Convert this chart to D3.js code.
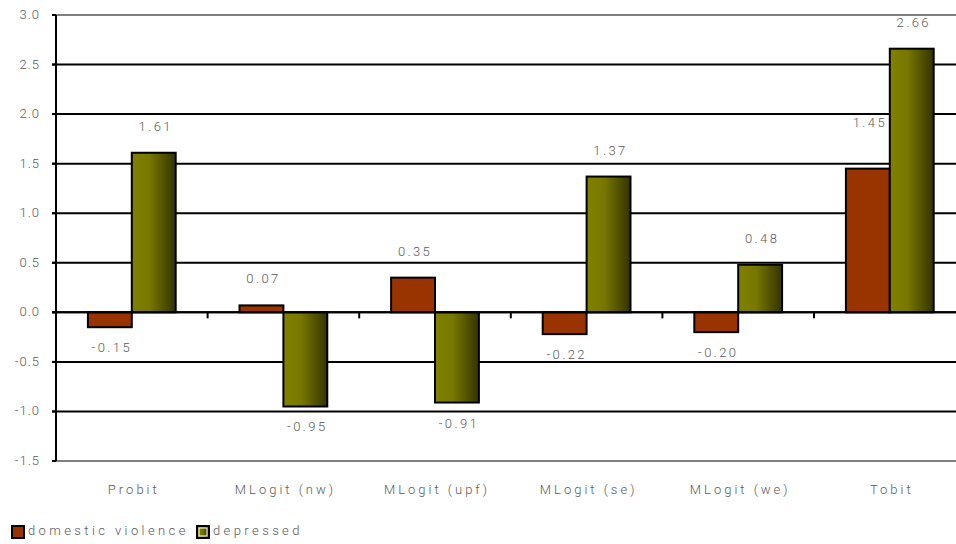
<!DOCTYPE html>
<html>
<head>
<meta charset="utf-8">
<script src="https://cdn.jsdelivr.net/npm/d3@7"></script>
<style>
  body { margin: 0; background: #fff; }
  text { font-family: Roboto, "Liberation Sans", Arial, sans-serif; font-weight: 300; fill: #5a5a5a; }
</style>
</head>
<body>
<div id="chart"></div>
<script>
const width = 956
const height = 544

const categories = ["Probit", "MLogit (nw)", "MLogit (upf)", "MLogit (se)", "MLogit (we)", "Tobit"]
const series = ["domestic violence", "depressed"]
const violence = [-0.15, 0.07, 0.35, -0.22, -0.20, 1.45]
const depressed = [1.61, -0.95, -0.91, 1.37, 0.48, 2.66]
const yTicks = [3.0, 2.5, 2.0, 1.5, 1.0, 0.5, 0.0, -0.5, -1.0, -1.5]

// label nudge for the one label that sits higher in the original
const labelNudge = { "Tobit|domestic violence": -20 }

const plotLeft = 56, plotTop = 15, plotBottom = 461
const band = 151.6

const svg = d3.select("#chart")
  .append("svg")
    .attr("width", width)
    .attr("height", height)

const defs = svg.append("defs")
const grad = defs.append("linearGradient").attr("id", "olive")
  .attr("x1", "0%").attr("x2", "100%").attr("y1", "0%").attr("y2", "0%")
grad.append("stop").attr("offset", "0%").attr("stop-color", "#808000")
grad.append("stop").attr("offset", "40%").attr("stop-color", "#787800")
grad.append("stop").attr("offset", "100%").attr("stop-color", "#333300")

const x = d3.scaleBand()
  .domain(categories)
  .range([plotLeft, plotLeft + band * categories.length])
  .paddingInner(0)

const xs = d3.scaleBand()
  .domain(series)
  .range([0, band])
  .paddingOuter(0.727)
  .paddingInner(0)

const y = d3.scaleLinear()
  .domain([-1.5, 3.0])
  .range([plotBottom, plotTop])

const color = d3.scaleOrdinal().domain(series).range(["#993300", "url(#olive)"])

// gridlines
svg.append("g")
  .selectAll("line")
  .data(yTicks)
  .join("line")
    .attr("x1", plotLeft - 4)
    .attr("x2", width)
    .attr("y1", d => y(d))
    .attr("y2", d => y(d))
    .attr("stroke", d => (d === 3.0 || d === -1.5) ? "#808080" : "#000")
    .attr("stroke-width", 2)

// left tick stubs in black
svg.append("g")
  .selectAll("line")
  .data(yTicks)
  .join("line")
    .attr("x1", plotLeft - 4)
    .attr("x2", plotLeft)
    .attr("y1", d => y(d))
    .attr("y2", d => y(d))
    .attr("stroke", "#000")
    .attr("stroke-width", 2)

// y labels
svg.append("g")
  .selectAll("text")
  .data(yTicks)
  .join("text")
    .attr("x", 40)
    .attr("y", d => y(d) + 4)
    .attr("text-anchor", "end")
    .style("font-size", "13px")
    .style("letter-spacing", "1px")
    .text(d => d3.format(".1f")(d).replace("−", "-"))

// bars
const rows = []
categories.forEach((c, i) => {
  rows.push({ cat: c, s: series[0], v: violence[i] })
  rows.push({ cat: c, s: series[1], v: depressed[i] })
})

svg.append("g")
  .selectAll("rect")
  .data(rows)
  .join("rect")
    .attr("x", d => x(d.cat) + xs(d.s))
    .attr("width", xs.bandwidth())
    .attr("y", d => y(Math.max(0, d.v)))
    .attr("height", d => Math.abs(y(d.v) - y(0)))
    .attr("fill", d => color(d.s))
    .attr("stroke", "#000")
    .attr("stroke-width", 2)

// y axis line
svg.append("line")
  .attr("x1", plotLeft).attr("x2", plotLeft)
  .attr("y1", plotTop).attr("y2", plotBottom)
  .attr("stroke", "#000").attr("stroke-width", 2)

// zero line with ticks
svg.append("line")
  .attr("x1", plotLeft - 4).attr("x2", width)
  .attr("y1", y(0)).attr("y2", y(0))
  .attr("stroke", "#000").attr("stroke-width", 2)

svg.append("g")
  .selectAll("line")
  .data(categories.slice(1))
  .join("line")
    .attr("x1", d => x(d)).attr("x2", d => x(d))
    .attr("y1", y(0)).attr("y2", y(0) + 6)
    .attr("stroke", "#000").attr("stroke-width", 2)

// value labels
svg.append("g")
  .selectAll("text")
  .data(rows)
  .join("text")
    .attr("x", d => x(d.cat) + xs(d.s) + xs.bandwidth() / 2 + 2)
    .attr("y", d => (d.v >= 0 ? y(d.v) - 22 : y(d.v) + 25) + (labelNudge[d.cat + "|" + d.s] || 0))
    .attr("text-anchor", "middle")
    .style("font-size", "13px")
    .style("letter-spacing", "2.4px")
    .text(d => d3.format(".2f")(d.v).replace("−", "-"))

// category labels
svg.append("g")
  .selectAll("text")
  .data(categories)
  .join("text")
    .attr("x", d => x(d) + band / 2 + 2)
    .attr("y", 494)
    .attr("text-anchor", "middle")
    .style("font-size", "13px")
    .style("letter-spacing", "3px")
    .text(d => d)

// legend
const legendX = [12, 197]
const lg = svg.append("g")
  .selectAll("g")
  .data(series)
  .join("g")
    .attr("transform", (d, i) => `translate(${legendX[i]},526)`)

lg.append("rect")
  .attr("x", 0).attr("y", 0)
  .attr("width", 12).attr("height", 12)
  .attr("fill", d => color(d))
  .attr("stroke", "#000").attr("stroke-width", 2)

lg.filter((d, i) => i === 1).append("rect")
  .attr("x", 2).attr("y", 2)
  .attr("width", 8).attr("height", 8)
  .attr("fill", "none")
  .attr("stroke", "#fff").attr("stroke-width", 1)

lg.append("text")
  .attr("x", 16)
  .attr("y", 9)
  .style("font-size", "13px")
  .style("letter-spacing", "3.4px")
  .text(d => d)
</script>
</body>
</html>
